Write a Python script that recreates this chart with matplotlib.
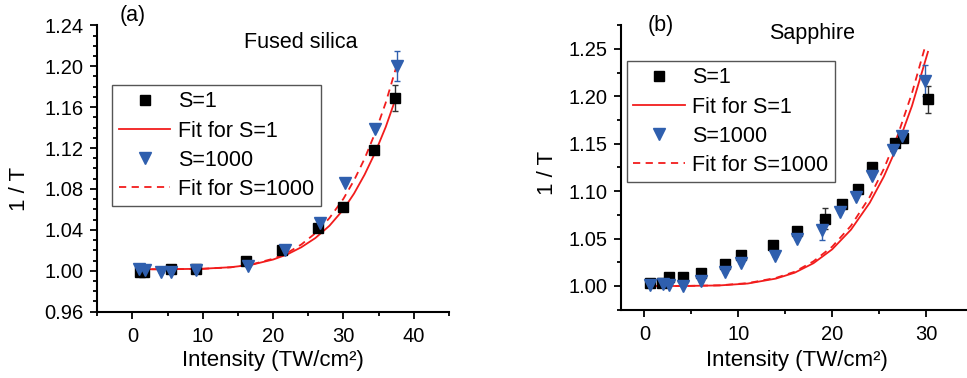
"""Inverse transmission vs intensity for fused silica and sapphire."""

import matplotlib.pyplot as plt
from matplotlib.ticker import MultipleLocator, FormatStrFormatter

plt.rcParams["font.family"] = ["Liberation Sans", "DejaVu Sans"]

# ---- (a) fused silica ----
silica_s1_x = [1.0, 1.6, 5.5, 9.0, 16.1, 21.2, 26.4, 30.0, 34.4, 37.3]
silica_s1_y = [0.999, 0.999, 1.002, 1.002, 1.0096, 1.020, 1.0415, 1.062, 1.118, 1.169]
silica_s1_err = [0, 0, 0, 0, 0, 0, 0, 0, 0, 0.013]

silica_s1000_x = [0.9, 1.8, 4.0, 5.5, 9.1, 16.4, 21.7, 26.7, 30.2, 34.5, 37.6]
silica_s1000_y = [1.002, 1.001, 0.9985, 0.999, 1.0005, 1.005, 1.020, 1.047, 1.0855, 1.139, 1.200]
silica_s1000_err = [0, 0, 0, 0, 0, 0, 0, 0, 0, 0, 0.0145]

silica_fit1_x = [0.9, 5, 10, 14, 17, 20, 22, 24, 26, 28, 30, 31.5, 33, 34.5, 36, 37.5]
silica_fit1_y = [1.0015, 1.0015, 1.002, 1.0035, 1.006, 1.011, 1.016, 1.023, 1.032, 1.044,
                 1.060, 1.0755, 1.094, 1.1155, 1.1405, 1.170]
silica_fit1000_x = [0.9, 5, 10, 14, 17, 20, 22, 24, 26, 28, 30, 31.5, 33, 34.5, 36, 37.8]
silica_fit1000_y = [1.0015, 1.0015, 1.0019, 1.0034, 1.0063, 1.0118, 1.0175, 1.0257, 1.0367,
                    1.0515, 1.0705, 1.0884, 1.1096, 1.1348, 1.1642, 1.2061]

# ---- (b) sapphire ----
sapph_s1_x = [0.64, 1.9, 2.6, 4.1, 6.0, 8.6, 10.3, 13.7, 16.3, 19.2, 21.0, 22.7, 24.2, 26.7, 27.5, 30.2]
sapph_s1_y = [1.0035, 1.0035, 1.0098, 1.0095, 1.014, 1.023, 1.033, 1.043, 1.058, 1.071,
              1.087, 1.102, 1.126, 1.151, 1.156, 1.197]
sapph_s1_err = [0, 0, 0, 0, 0, 0, 0, 0, 0, 0.0114, 0, 0, 0, 0, 0, 0.0144]

sapph_s1000_x = [0.64, 1.95, 2.65, 4.1, 6.0, 8.6, 10.3, 13.9, 16.3, 18.9, 20.8, 22.5, 24.2, 26.5, 27.4, 29.9]
sapph_s1000_y = [1.001, 1.002, 1.001, 1.000, 1.005, 1.015, 1.0246, 1.0317, 1.050, 1.059,
                 1.078, 1.094, 1.116, 1.1435, 1.158, 1.2166]
sapph_s1000_err = [0, 0, 0, 0, 0, 0, 0, 0, 0, 0.011, 0, 0, 0, 0, 0, 0.016]

sapph_fit1_x = [0.6, 4, 8, 11, 14, 16, 18, 20, 22, 24, 25.5, 27, 28.5, 30.2]
sapph_fit1_y = [1.000, 1.000, 1.0006, 1.0026, 1.0078, 1.014, 1.024, 1.0387, 1.0594, 1.0878,
                1.1154, 1.149, 1.190, 1.247]
sapph_fit1000_x = [0.6, 4, 8, 11, 14, 16, 18, 20, 22, 24, 25.5, 27, 28.5, 29.9]
sapph_fit1000_y = [1.000, 1.000, 1.0007, 1.003, 1.0085, 1.015, 1.026, 1.0415, 1.0635, 1.094,
                   1.1235, 1.1595, 1.2035, 1.2525]

BLUE = "#2f5fae"
RED = "#f21c1c"
W, H = 967, 378
LEGEND_ORDER = ["S=1", "Fit for S=1", "S=1000", "Fit for S=1000"]


def draw_panel(ax, d):
    (s1x, s1y, s1e, s2x, s2y, s2e, f1x, f1y, f2x, f2y) = d
    ax.plot(f1x, f1y, color=RED, lw=1.3, label="Fit for S=1", zorder=2)
    ax.plot(f2x, f2y, color=RED, lw=1.3, dashes=(4, 3), label="Fit for S=1000", zorder=2)
    ax.errorbar(s1x, s1y, yerr=s1e, fmt="none", ecolor="#333333", elinewidth=1,
                capsize=2.5, capthick=1, zorder=3)
    ax.errorbar(s2x, s2y, yerr=s2e, fmt="none", ecolor=BLUE, elinewidth=1,
                capsize=2.5, capthick=1, zorder=3)
    ax.plot(s1x, s1y, "s", color="black", ms=7, ls="none", label="S=1", zorder=4)
    ax.plot(s2x, s2y, "v", color=BLUE, ms=8.5, ls="none", label="S=1000", zorder=4)

    for side in ("top", "right"):
        ax.spines[side].set_visible(False)
    for side in ("left", "bottom"):
        ax.spines[side].set_linewidth(1.5)
    ax.tick_params(which="major", direction="out", length=5, width=1.3, labelsize=14.5, pad=5)
    ax.tick_params(which="minor", direction="out", length=3, width=1.3)
    ax.tick_params(axis="x", which="major", pad=6)
    ax.xaxis.set_major_locator(MultipleLocator(10))
    ax.xaxis.set_minor_locator(MultipleLocator(5))
    ax.yaxis.set_major_formatter(FormatStrFormatter("%.2f"))
    ax.set_xlabel("Intensity (TW/cm²)", fontsize=16)
    ax.set_ylabel("1 / T", fontsize=16)

    handles, labels = ax.get_legend_handles_labels()
    hmap = dict(zip(labels, handles))
    return [hmap[k] for k in LEGEND_ORDER], LEGEND_ORDER


def add_legend(ax, fig, h, l, x, y):
    leg = ax.legend(h, l, loc="upper left", bbox_to_anchor=(x / W, 1 - y / H),
                    bbox_transform=fig.transFigure, fontsize=15.5, frameon=True,
                    fancybox=False, edgecolor="#555555", framealpha=1, borderpad=0.3,
                    labelspacing=0.38, handlelength=2.4, handletextpad=0.35,
                    borderaxespad=0)
    leg.get_frame().set_linewidth(1.0)


fig = plt.figure(figsize=(W / 100, H / 100), dpi=100)

ax1 = fig.add_axes([97.3 / W, 0.1754, 351.7 / W, 0.7577])
h, l = draw_panel(ax1, (silica_s1_x, silica_s1_y, silica_s1_err,
                        silica_s1000_x, silica_s1000_y, silica_s1000_err,
                        silica_fit1_x, silica_fit1_y, silica_fit1000_x, silica_fit1000_y))
ax1.set_xlim(-5, 45)
ax1.set_ylim(0.96, 1.24)
ax1.yaxis.set_major_locator(MultipleLocator(0.04))
ax1.yaxis.set_minor_locator(MultipleLocator(0.01))
ax1.yaxis.set_label_coords(-0.19, 0.43)
ax1.xaxis.set_label_coords(0.5, -0.134)
add_legend(ax1, fig, h, l, 112.3, 85)

ax2 = fig.add_axes([621 / W, 0.1807, 352 / W, 0.7524])
h, l = draw_panel(ax2, (sapph_s1_x, sapph_s1_y, sapph_s1_err,
                        sapph_s1000_x, sapph_s1000_y, sapph_s1000_err,
                        sapph_fit1_x, sapph_fit1_y, sapph_fit1000_x, sapph_fit1000_y))
ax2.set_xlim(-2.5, 35)
ax2.set_ylim(0.975, 1.275)
ax2.yaxis.set_major_locator(MultipleLocator(0.05))
ax2.yaxis.set_minor_locator(MultipleLocator(0.025))
ax2.yaxis.set_label_coords(-0.18, 0.48)
ax2.xaxis.set_label_coords(0.5, -0.142)
add_legend(ax2, fig, h, l, 626.7, 61)

fig.text(133 / W, 1 - 21 / H, "(a)", fontsize=15.5, ha="center", va="baseline")
fig.text(661 / W, 1 - 30.7 / H, "(b)", fontsize=15.5, ha="center", va="baseline")
fig.text(301 / W, 1 - 48.3 / H, "Fused silica", fontsize=15.5, ha="center", va="baseline")
fig.text(812 / W, 1 - 39.3 / H, "Sapphire", fontsize=15.5, ha="center", va="baseline")

fig.savefig("out.png", dpi=100)
plt.close(fig)
